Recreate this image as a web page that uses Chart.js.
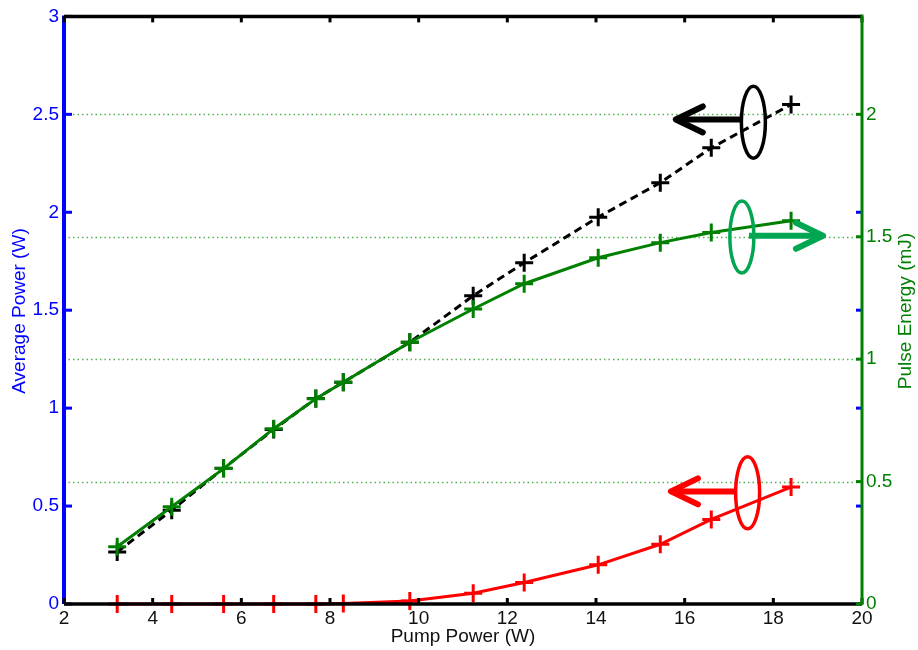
<!DOCTYPE html>
<html>
<head>
<meta charset="utf-8">
<script src="https://cdn.jsdelivr.net/npm/chart.js@4.4.0/dist/chart.umd.min.js"></script>
<style>
html, body { margin: 0; padding: 0; background: #fff; }
#wrap { width: 918px; height: 650px; }
</style>
</head>
<body>
<div id="wrap"><canvas id="lineChart" width="918" height="650"></canvas></div>
<script>
// pump power (W) for every measurement
const pumpPower = [3.2, 4.43, 5.6, 6.73, 7.68, 8.3, 9.8, 11.23, 12.38, 14.05, 15.45, 16.6, 18.4];
// average power, black dashed (left axis, W)
const avgPowerBlack = [0.266, 0.479, 0.693, 0.891, 1.049, 1.132, 1.336, 1.574, 1.742, 1.975, 2.151, 2.329, 2.55];
// average power, red (left axis, W)
const avgPowerRed = [0, 0, 0, 0, 0, 0.003, 0.015, 0.055, 0.11, 0.2, 0.305, 0.432, 0.597];
// pulse energy, green (right axis, mJ)
const pulseEnergy = [0.234, 0.397, 0.553, 0.716, 0.838, 0.906, 1.069, 1.205, 1.308, 1.414, 1.476, 1.517, 1.565];

const xTicks = [2, 4, 6, 8, 10, 12, 14, 16, 18, 20];
const leftTicks = [0, 0.5, 1, 1.5, 2, 2.5, 3];
const rightTicks = [0, 0.5, 1, 1.5, 2];

const FONT = "'Liberation Sans', Arial, sans-serif";

// ellipse + arrow markers telling which axis each curve uses (x in W, y in left-axis W)
const axisMarkers = [
    { color: '#000000', cx: 17.55, cy: 2.46, tailX: 17.29, tipX: 15.8, y: 2.474 },
    { color: '#00a651', cx: 17.29, cy: 1.874, tailX: 17.45, tipX: 19.12, y: 1.88 },
    { color: '#ff0000', cx: 17.42, cy: 0.568, tailX: 17.18, tipX: 15.69, y: 0.575 }
];

const setTicks = list => scale => { scale.ticks = list.map(v => ({ value: v })); };

// grid + axes drawn by hand to get the inward ticks and coloured spines
const framePlugin = {
    id: 'frame',
    beforeDatasetsDraw(chart) {
        const { ctx, chartArea: a, scales } = chart;
        ctx.save();
        ctx.strokeStyle = 'rgba(40,160,40,0.8)';
        ctx.lineWidth = 1.5;
        ctx.setLineDash([1.5, 3]);
        rightTicks.slice(1).forEach(v => {
            const y = Math.round(scales.y2.getPixelForValue(v)) + 0.5;
            ctx.beginPath();
            ctx.moveTo(a.left, y);
            ctx.lineTo(a.right, y);
            ctx.stroke();
        });
        ctx.restore();
    },
    afterDatasetsDraw(chart) {
        const { ctx, chartArea: a, scales } = chart;
        const tick = 6;
        ctx.save();
        ctx.lineCap = 'butt';

        // left spine
        ctx.strokeStyle = '#0000ff';
        ctx.lineWidth = 4;
        ctx.beginPath(); ctx.moveTo(a.left, a.top - 1); ctx.lineTo(a.left, a.bottom); ctx.stroke();
        ctx.lineWidth = 3;
        leftTicks.forEach(v => {
            const y = scales.y.getPixelForValue(v);
            ctx.beginPath(); ctx.moveTo(a.left, y); ctx.lineTo(a.left + tick + 2, y); ctx.stroke();
            if (v > 0 && v < 3 && v !== 2.5) {
                ctx.beginPath(); ctx.moveTo(a.right, y); ctx.lineTo(a.right - tick, y); ctx.stroke();
            }
        });

        // top and bottom spines
        ctx.strokeStyle = '#000000';
        ctx.lineWidth = 3.5;
        ctx.beginPath(); ctx.moveTo(a.left, a.top); ctx.lineTo(a.right, a.top); ctx.stroke();
        ctx.beginPath(); ctx.moveTo(a.left, a.bottom); ctx.lineTo(a.right, a.bottom); ctx.stroke();
        ctx.lineWidth = 3;
        xTicks.forEach(v => {
            const x = scales.x.getPixelForValue(v);
            ctx.beginPath(); ctx.moveTo(x, a.bottom); ctx.lineTo(x, a.bottom - tick); ctx.stroke();
            ctx.beginPath(); ctx.moveTo(x, a.top); ctx.lineTo(x, a.top + tick); ctx.stroke();
        });

        // right spine
        ctx.strokeStyle = '#008000';
        ctx.lineWidth = 3;
        ctx.beginPath(); ctx.moveTo(a.right, a.top - 2); ctx.lineTo(a.right, a.bottom + 1); ctx.stroke();
        rightTicks.forEach(v => {
            const y = scales.y2.getPixelForValue(v);
            ctx.beginPath(); ctx.moveTo(a.right, y); ctx.lineTo(a.right - tick, y); ctx.stroke();
        });

        // ellipses and arrows
        axisMarkers.forEach(m => {
            const cx = scales.x.getPixelForValue(m.cx);
            const cy = scales.y.getPixelForValue(m.cy);
            const y = scales.y.getPixelForValue(m.y);
            const tail = scales.x.getPixelForValue(m.tailX);
            const tip = scales.x.getPixelForValue(m.tipX);
            const dir = tip < tail ? 1 : -1;
            ctx.strokeStyle = m.color;
            ctx.lineWidth = 3.5;
            ctx.beginPath();
            ctx.ellipse(cx, cy, 12, 36, 0, 0, Math.PI * 2);
            ctx.stroke();
            ctx.lineWidth = 6;
            ctx.lineCap = 'butt';
            ctx.beginPath(); ctx.moveTo(tail, y); ctx.lineTo(tip + dir * 3, y); ctx.stroke();
            ctx.lineCap = 'round';
            ctx.lineJoin = 'round';
            ctx.beginPath();
            ctx.moveTo(tip + dir * 27, y - 13);
            ctx.lineTo(tip, y);
            ctx.lineTo(tip + dir * 27, y + 13);
            ctx.stroke();
        });

        // axis titles
        ctx.font = '19px ' + FONT;
        ctx.textAlign = 'center';
        ctx.textBaseline = 'middle';
        ctx.fillStyle = '#111111';
        ctx.fillText('Pump Power (W)', (a.left + a.right) / 2, 637);
        ctx.save();
        ctx.translate(20, 311);
        ctx.rotate(-Math.PI / 2);
        ctx.fillStyle = '#0000ff';
        ctx.fillText('Average Power (W)', 0, 0);
        ctx.restore();
        ctx.save();
        ctx.translate(906, 311);
        ctx.rotate(-Math.PI / 2);
        ctx.fillStyle = '#008000';
        ctx.fillText('Pulse Energy (mJ)', 0, 0);
        ctx.restore();
        ctx.restore();
    }
};

const makePoints = ys => pumpPower.map((x, i) => ({ x: x, y: ys[i] }));

const seriesStyle = color => ({
    borderColor: color,
    backgroundColor: color,
    borderWidth: 3,
    pointStyle: 'cross',
    pointRadius: 9,
    pointBorderWidth: 3,
    pointBorderColor: color,
    tension: 0,
    clip: false
});

const tickFont = { size: 19, family: FONT };

const ctx = document.getElementById('lineChart');
new Chart(ctx, {
    type: 'line',
    data: {
        datasets: [
            Object.assign({ label: 'Pulse Energy', data: makePoints(pulseEnergy), yAxisID: 'y2' }, seriesStyle('#008000')),
            Object.assign({ label: 'Average Power', data: makePoints(avgPowerBlack), yAxisID: 'y', borderDash: [8, 5] }, seriesStyle('#000000')),
            Object.assign({ label: 'Average Power (red)', data: makePoints(avgPowerRed), yAxisID: 'y' }, seriesStyle('#ff0000'))
        ]
    },
    options: {
        responsive: false,
        animation: false,
        layout: { padding: { top: 15, left: 0, right: 0, bottom: 0 } },
        plugins: { legend: { display: false }, tooltip: { enabled: false } },
        scales: {
            x: {
                type: 'linear', min: 2, max: 20,
                grid: { display: false, drawTicks: false }, border: { display: false },
                afterBuildTicks: setTicks(xTicks),
                afterFit: s => { s.height = 46; },
                ticks: { color: '#111111', padding: 3, maxRotation: 0, autoSkip: false, font: tickFont, callback: v => String(v) }
            },
            y: {
                position: 'left', min: 0, max: 3,
                grid: { display: false, drawTicks: false }, border: { display: false },
                afterBuildTicks: setTicks(leftTicks),
                afterFit: s => { s.width = 64; },
                ticks: { color: '#0000ff', padding: 5, font: tickFont, callback: v => String(v) }
            },
            y2: {
                position: 'right', min: 0, max: 2.4,
                grid: { display: false, drawTicks: false }, border: { display: false },
                afterBuildTicks: setTicks(rightTicks),
                afterFit: s => { s.width = 56; },
                ticks: { color: '#008000', padding: 4, font: tickFont, callback: v => String(v) }
            }
        }
    },
    plugins: [framePlugin]
});
</script>
</body>
</html>
